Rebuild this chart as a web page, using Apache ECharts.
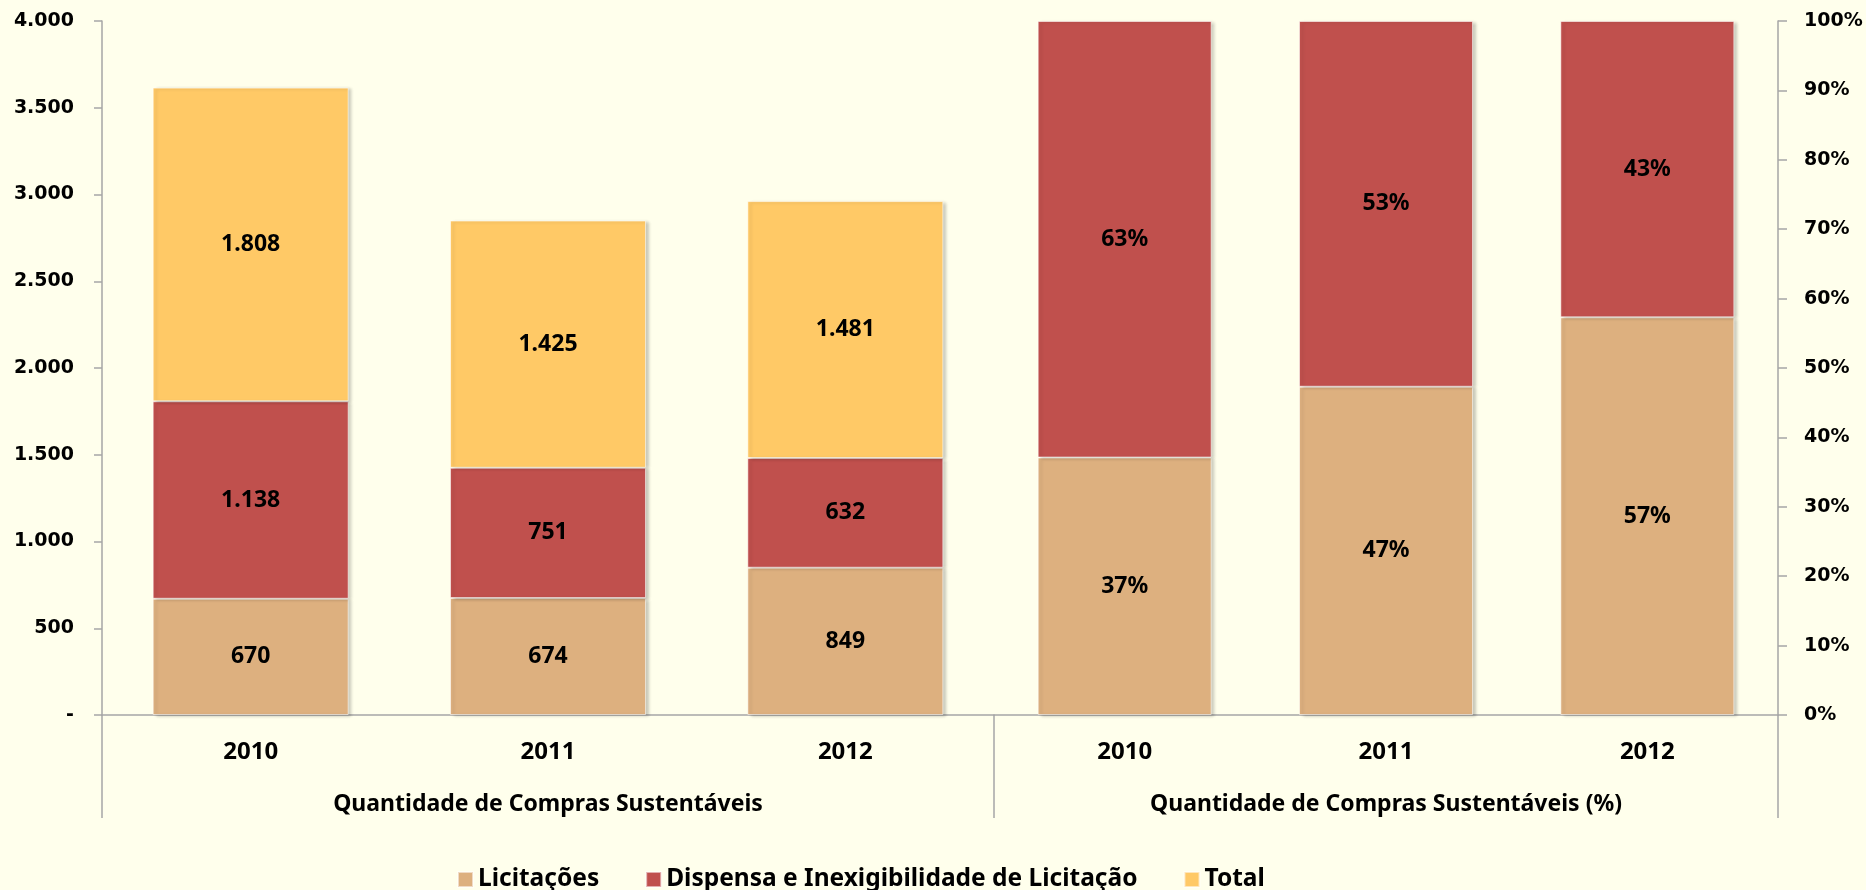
<!DOCTYPE html>
<html>
<head>
<meta charset="utf-8">
<script src="https://cdn.jsdelivr.net/npm/echarts@6/dist/echarts.min.js"></script>
<style>
  html, body { margin: 0; padding: 0; background: #FFFFEC; }
  #chart { width: 1866px; height: 890px; }
</style>
</head>
<body>
<div id="chart"></div>
<script>
// data
var years = ['2010', '2011', '2012'];
var groupLeft = ['Quantidade de Compras Sustentáveis'];
var groupRight = ['Quantidade de Compras Sustentáveis (%)'];
var licitacoes = [670, 674, 849];
var dispensa = [1138, 751, 632];
var total = [1808, 1425, 1481];
var licitacoesPct = [37.1, 47.3, 57.3];
var dispensaPct = [62.9, 52.7, 42.7];

var names = ['Licitações', 'Dispensa e Inexigibilidade de Licitação', 'Total'];
var colors = ['#DDB07F', '#C0504D', '#FFC966'];

var axisGray = '#A6A6A6';
var txtFont = 'Noto Sans';

function thousands(v) {
    if (v === 0) return '-';
    return String(v).replace(/\B(?=(\d{3})+(?!\d))/g, '.');
}

var barStyle = function(c) {
    return {
        color: c,
        borderColor: 'rgba(255,255,255,0.55)',
        borderWidth: 1,
        shadowColor: 'rgba(0,0,0,0.22)',
        shadowBlur: 3,
        shadowOffsetX: 3,
        shadowOffsetY: 1
    };
};

var dataLabel = function(fmt) {
    return {
        show: true,
        position: 'inside',
        color: '#000',
        fontFamily: txtFont,
        fontWeight: 'bold',
        fontSize: 23,
        formatter: fmt
    };
};

var yearAxis = function(gi) {
    return {
        type: 'category',
        gridIndex: gi,
        data: years,
        position: 'bottom',
        axisLine: { lineStyle: { color: axisGray, width: 1.5 } },
        axisTick: { length: 52, interval: 0, lineStyle: { color: axisGray, width: 1.5 } },
        axisLabel: { margin: 25, color: '#000', fontFamily: txtFont, fontWeight: 'bold', fontSize: 24 }
    };
};

var groupAxis = function(gi, label) {
    return {
        type: 'category',
        gridIndex: gi,
        data: label,
        position: 'bottom',
        axisLine: { show: false },
        axisTick: { show: true, length: 103, lineStyle: { color: axisGray, width: 1.5 } },
        axisLabel: { margin: 78, color: '#000', fontFamily: txtFont, fontWeight: 'bold', fontSize: 23 }
    };
};

var chart = echarts.init(document.getElementById('chart'));
var option = {
    backgroundColor: '#FFFFEC',
    animation: false,
    color: colors,
    grid: [
        { left: 102, top: 21, width: 892, height: 694 },
        { left: 994, top: 21, width: 784, height: 694 }
    ],
    legend: {
        left: 452,
        top: 862,
        itemWidth: 15,
        itemHeight: 15,
        itemGap: 46,
        icon: 'rect',
        data: names,
        textStyle: { color: '#000', fontFamily: txtFont, fontWeight: 'bold', fontSize: 24.5 }
    },
    xAxis: [
        yearAxis(0),
        groupAxis(0, groupLeft),
        yearAxis(1),
        groupAxis(1, groupRight)
    ],
    yAxis: [
        {
            type: 'value',
            gridIndex: 0,
            position: 'left',
            min: 0,
            max: 4000,
            interval: 500,
            splitLine: { show: false },
            axisLine: { show: true, lineStyle: { color: axisGray, width: 1.5 } },
            axisTick: { show: true, length: 8, lineStyle: { color: axisGray, width: 1.5 } },
            axisLabel: {
                margin: 28,
                color: '#000',
                fontFamily: 'DejaVu Sans',
                fontWeight: 'bold',
                fontSize: 19,
                formatter: thousands
            }
        },
        {
            type: 'value',
            gridIndex: 1,
            position: 'right',
            min: 0,
            max: 100,
            interval: 10,
            splitLine: { show: false },
            axisLine: { show: true, lineStyle: { color: axisGray, width: 1.5 } },
            axisTick: { show: true, length: 9, lineStyle: { color: axisGray, width: 1.5 } },
            axisLabel: {
                margin: 26,
                color: '#000',
                fontFamily: 'DejaVu Sans',
                fontWeight: 'bold',
                fontSize: 19,
                formatter: '{value}%'
            }
        }
    ],
    series: [
        { name: names[0], type: 'bar', stack: 'qtd', xAxisIndex: 0, yAxisIndex: 0, barWidth: 196,
          itemStyle: barStyle(colors[0]), label: dataLabel(function(p) { return thousands(p.value); }), data: licitacoes },
        { name: names[1], type: 'bar', stack: 'qtd', xAxisIndex: 0, yAxisIndex: 0, barWidth: 196,
          itemStyle: barStyle(colors[1]), label: dataLabel(function(p) { return thousands(p.value); }), data: dispensa },
        { name: names[2], type: 'bar', stack: 'qtd', xAxisIndex: 0, yAxisIndex: 0, barWidth: 196,
          itemStyle: barStyle(colors[2]), label: dataLabel(function(p) { return thousands(p.value); }), data: total },
        { name: names[0], type: 'bar', stack: 'pct', xAxisIndex: 2, yAxisIndex: 1, barWidth: 174,
          itemStyle: barStyle(colors[0]), label: dataLabel(function(p) { return Math.round(p.value) + '%'; }), data: licitacoesPct },
        { name: names[1], type: 'bar', stack: 'pct', xAxisIndex: 2, yAxisIndex: 1, barWidth: 174,
          itemStyle: barStyle(colors[1]), label: dataLabel(function(p) { return Math.round(p.value) + '%'; }), data: dispensaPct }
    ]
};
chart.setOption(option);
</script>
</body>
</html>
